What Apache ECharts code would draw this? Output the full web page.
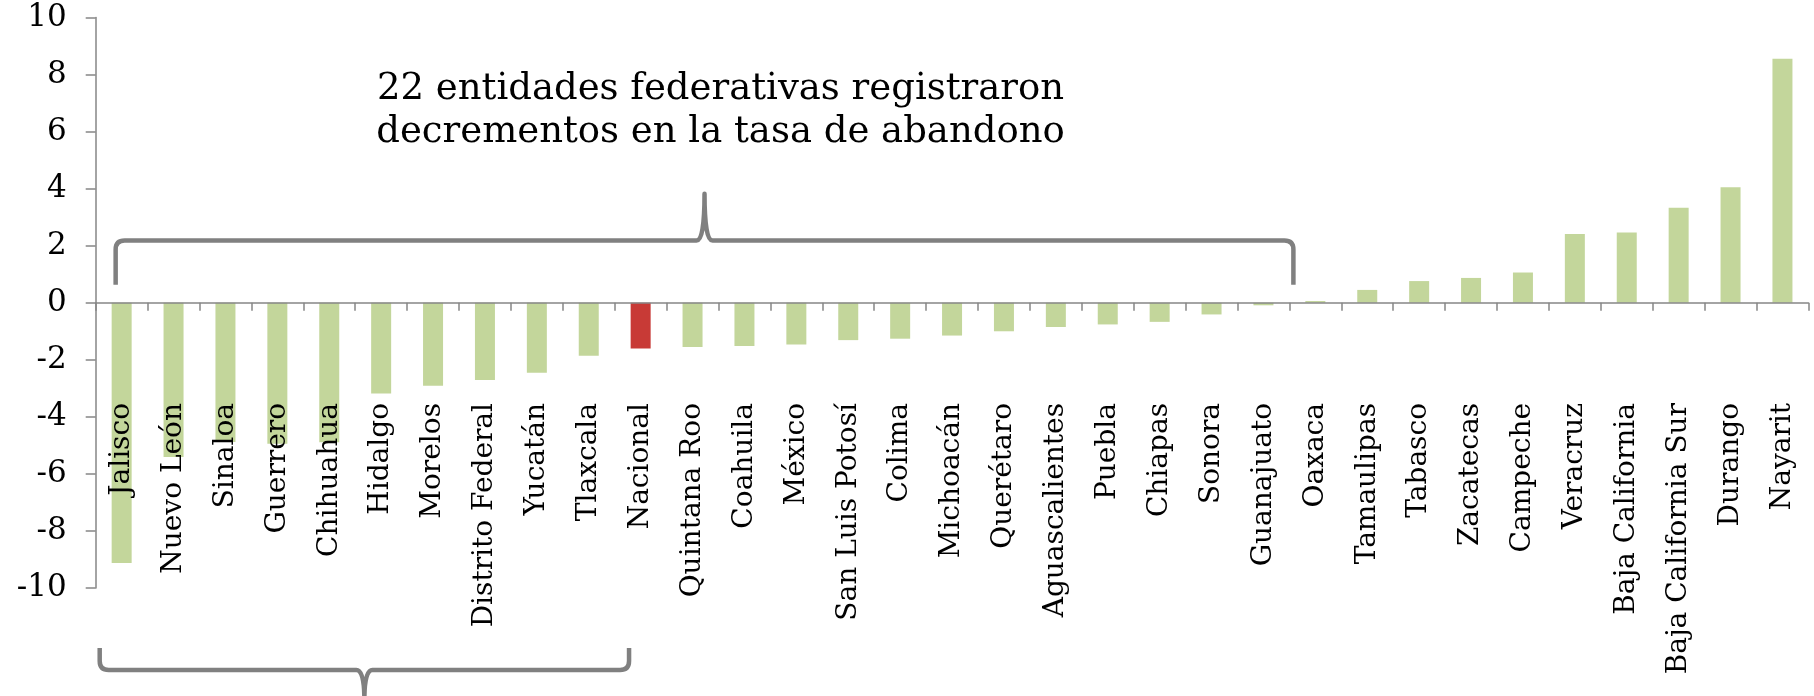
<!DOCTYPE html>
<html>
<head>
<meta charset="utf-8">
<script src="https://cdn.jsdelivr.net/npm/echarts@6/dist/echarts.min.js"></script>
<style>
html,body{margin:0;padding:0;background:#fff;}
#c{width:1814px;height:696px;}
</style>
</head>
<body>
<div id="c"></div>
<script>
const categories = ['Jalisco','Nuevo León','Sinaloa','Guerrero','Chihuahua','Hidalgo','Morelos','Distrito Federal','Yucatán','Tlaxcala','Nacional','Quintana Roo','Coahuila','México','San Luis Potosí','Colima','Michoacán','Querétaro','Aguascalientes','Puebla','Chiapas','Sonora','Guanajuato','Oaxaca','Tamaulipas','Tabasco','Zacatecas','Campeche','Veracruz','Baja California','Baja California Sur','Durango','Nayarit'];
const values = [-9.12,-5.41,-4.88,-4.94,-4.89,-3.18,-2.91,-2.71,-2.45,-1.86,-1.60,-1.55,-1.52,-1.46,-1.31,-1.26,-1.15,-1.00,-0.85,-0.76,-0.67,-0.41,-0.09,0.06,0.45,0.76,0.87,1.06,2.41,2.46,3.33,4.05,8.55];
const highlighted = ['Nacional'];
const yTicks = {min:-10, max:10, interval:2};
const noteLines = ['22 entidades federativas registraron','decrementos en la tasa de abandono'];

const GREEN = '#c3d69b', RED = '#c83a36', AXIS = '#868686', BRACE = '#808080';
const serif = "'DejaVu Serif',serif";

const chart = echarts.init(document.getElementById('c'), null, {renderer:'canvas'});
chart.setOption({
  animation:false,
  grid:{left:95.7, right:5.6, top:17.5, bottom:108, containLabel:false, outerBoundsMode:'none'},
  xAxis:{
    type:'category', data:categories, z:10,
    axisLine:{onZero:true, lineStyle:{color:AXIS, width:1.5}},
    axisTick:{show:true, length:8, alignWithLabel:false, lineStyle:{color:AXIS, width:1.5}},
    axisLabel:{rotate:90, margin:-185, interval:0, fontFamily:serif, fontSize:28, color:'#000'}
  },
  yAxis:{
    type:'value', min:yTicks.min, max:yTicks.max, interval:yTicks.interval,
    axisLine:{show:true, lineStyle:{color:AXIS, width:1.5}},
    axisTick:{show:true, length:10, lineStyle:{color:AXIS, width:1.5}},
    splitLine:{show:false},
    axisLabel:{margin:29, fontFamily:serif, fontSize:31, color:'#000'}
  },
  series:[{
    type:'bar', barWidth:20,
    data: values.map((v,i)=>({value:v, itemStyle:{color: highlighted.includes(categories[i]) ? RED : GREEN}}))
  }]
});

function px(i){ return chart.convertToPixel({xAxisIndex:0}, i); }
function py(v){ return chart.convertToPixel({yAxisIndex:0}, v); }

const catW = px(1) - px(0);
const r = 9;
// top brace (opening downward) over the 22 decreasing entities
const tx0 = px(0) - 6, tx1 = px(22) + catW/2 + 4, txc = (tx0 + tx1)/2;
const tyb = py(0.63), tyh = py(2.18), typ = py(3.82);
const topPath = `M${tx0} ${tyb} L${tx0} ${tyh+r} Q${tx0} ${tyh} ${tx0+r} ${tyh} L${txc-8} ${tyh} Q${txc} ${tyh} ${txc} ${typ} Q${txc} ${tyh} ${txc+8} ${tyh} L${tx1-r} ${tyh} Q${tx1} ${tyh} ${tx1} ${tyh+r} L${tx1} ${tyb}`;
// bottom brace (opening upward) under the first ten entities
const bx0 = px(0) - catW/2 + 4, bx1 = px(10) - 11.6, bxc = (bx0 + bx1)/2;
const base = py(yTicks.min);
const byt = base + 60, byh = base + 82, byp = base + 112;
const botPath = `M${bx0} ${byt} L${bx0} ${byh-r} Q${bx0} ${byh} ${bx0+r} ${byh} L${bxc-8} ${byh} Q${bxc} ${byh} ${bxc} ${byp} Q${bxc} ${byh} ${bxc+8} ${byh} L${bx1-r} ${byh} Q${bx1} ${byh} ${bx1} ${byh-r} L${bx1} ${byt}`;

const zr = chart.getZr();
[topPath, botPath].forEach(d => {
  const p = echarts.graphic.makePath(d, {style:{stroke:BRACE, lineWidth:4.5, fill:null, lineCap:'butt', lineJoin:'round'}, silent:true});
  zr.add(p);
});

chart.setOption({
  graphic:[
    {type:'text', x:txc+16, y:107.5, style:{text:noteLines[0], font:"37px 'DejaVu Serif', serif", fill:'#000', align:'center', verticalAlign:'bottom'}},
    {type:'text', x:txc+16, y:150.5, style:{text:noteLines[1], font:"37px 'DejaVu Serif', serif", fill:'#000', align:'center', verticalAlign:'bottom'}}
  ]
});
</script>
</body>
</html>
